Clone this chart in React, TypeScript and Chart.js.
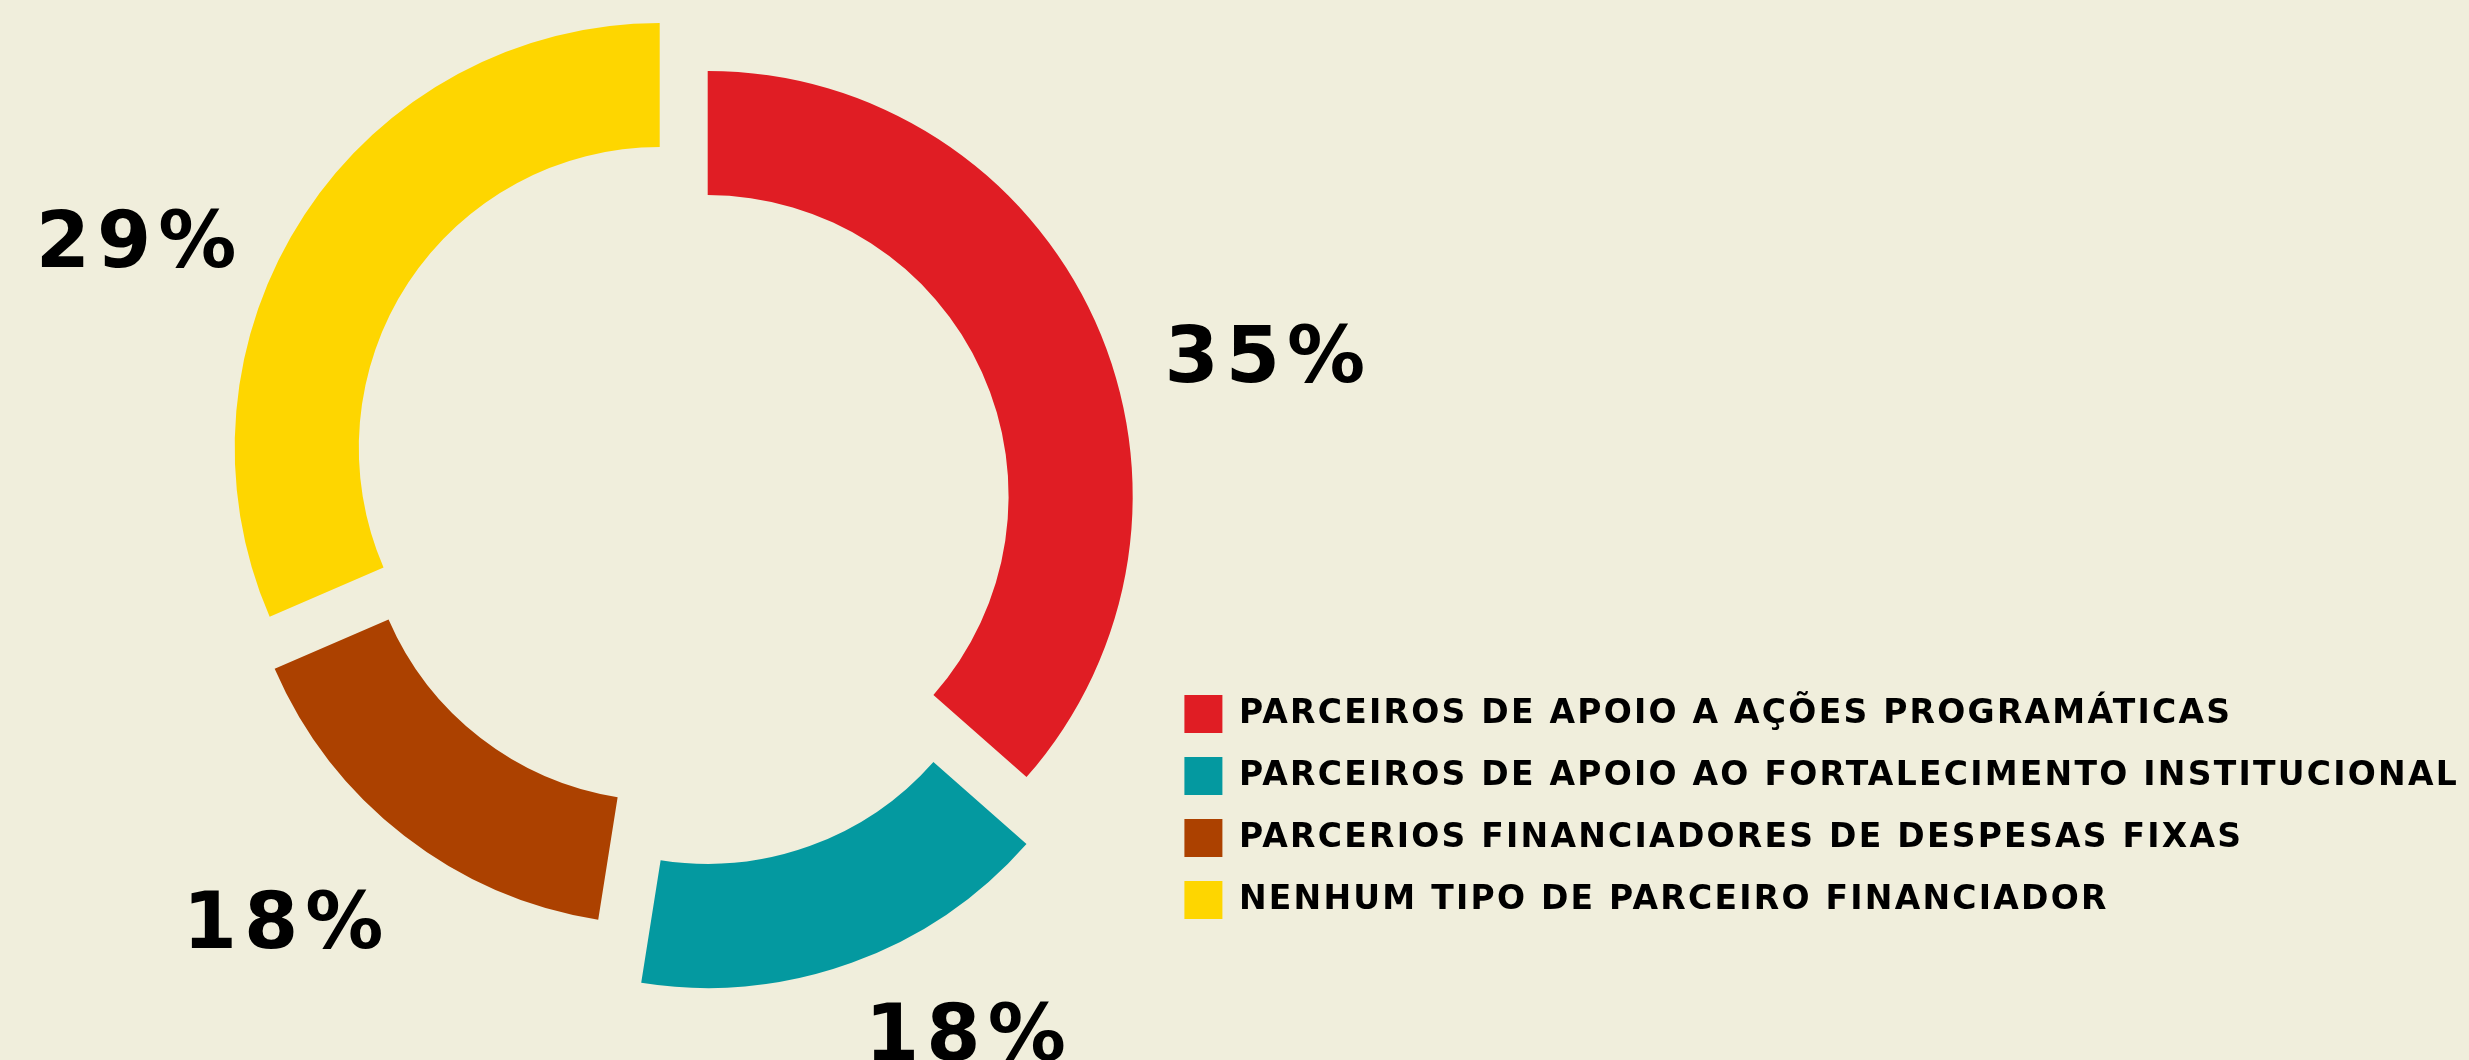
import React, { useEffect, useRef } from 'react';
import { Chart, registerables } from 'chart.js';

Chart.register(...registerables);

// ---- data ----
const categories = [
  'PARCEIROS DE APOIO A AÇÕES PROGRAMÁTICAS',
  'PARCEIROS DE APOIO AO FORTALECIMENTO INSTITUCIONAL',
  'PARCERIOS FINANCIADORES DE DESPESAS FIXAS',
  'NENHUM TIPO DE PARCEIRO FINANCIADOR',
];
// arc shares as drawn in the reference (degrees of each arc / 360)
const sliceShares = [36.5, 16, 16, 31.5];
// printed labels
const percentLabels = ['35%', '18%', '18%', '29%'];

// ---- style ----
const sliceColors = ['#E01D24', '#0499A0', '#AC4100', '#FED600'];
const BG = '#F0EEDC';
const W = 2469;
const H = 1060;
// exploded-piece displacement of each slice (px)
const sliceShift: [number, number][] = [
  [0, 0],
  [0, 67],
  [-43, 4],
  [-48, -48],
];
const labelAngleShiftDeg = [10, -9, 4.5, -11.5];
const labelDistance = [575, 535, 567, 564];
const PCT_FONT_SIZE = 78;
const PCT_TRACKING = 7;
const LEGEND_TRACKING = '2.25px';

const explodePlugin = {
  id: 'explodePieces',
  afterDatasetsUpdate(chart: any) {
    const meta = chart.getDatasetMeta(0);
    meta.data.forEach((el: any, i: number) => {
      el.x += sliceShift[i][0];
      el.y += sliceShift[i][1];
    });
  },
};

const trackingPlugin = {
  id: 'legendTracking',
  beforeLayout(chart: any) {
    chart.ctx.letterSpacing = LEGEND_TRACKING;
  },
  beforeDraw(chart: any) {
    chart.ctx.letterSpacing = LEGEND_TRACKING;
  },
};

const percentPlugin = {
  id: 'percentLabels',
  afterDatasetsDraw(chart: any) {
    const ctx = chart.ctx;
    const meta = chart.getDatasetMeta(0);
    ctx.save();
    ctx.font = `bold ${PCT_FONT_SIZE}px "DejaVu Sans", sans-serif`;
    ctx.letterSpacing = `${PCT_TRACKING}px`;
    ctx.fillStyle = '#000';
    ctx.textAlign = 'center';
    ctx.textBaseline = 'alphabetic';
    const capHalf = (PCT_FONT_SIZE * 0.729) / 2;
    meta.data.forEach((el: any, i: number) => {
      const { x, y, startAngle, endAngle } = el.getProps(['x', 'y', 'startAngle', 'endAngle'], true);
      const mid = (startAngle + endAngle) / 2 + (labelAngleShiftDeg[i] * Math.PI) / 180;
      const lx = x + Math.cos(mid) * labelDistance[i];
      const ly = y + Math.sin(mid) * labelDistance[i];
      ctx.fillText(percentLabels[i], lx + PCT_TRACKING / 2, ly + capHalf);
    });
    ctx.restore();
  },
};

export default function App() {
  const ref = useRef<HTMLCanvasElement>(null);
  useEffect(() => {
    document.body.style.margin = '0';
    document.body.style.background = BG;
    const chart = new Chart(ref.current as HTMLCanvasElement, {
      type: 'doughnut',
      data: {
        labels: categories,
        datasets: [
          {
            data: sliceShares,
            backgroundColor: sliceColors,
            borderWidth: 0,
            hoverOffset: 0,
            offset: 0,
            radius: 425,
            cutout: '70.8%',
          } as any,
        ],
      },
      options: {
        responsive: false,
        devicePixelRatio: 1,
        animation: false,
        events: [],
        layout: { padding: { left: 255, top: 49, bottom: 117, right: 0 } },
        plugins: {
          tooltip: { enabled: false },
          legend: {
            position: 'right',
            align: 'end',
            maxWidth: 2400,
            labels: {
              boxWidth: 38,
              boxHeight: 38,
              padding: 24,
              color: '#000',
              font: { family: '"DejaVu Sans", sans-serif', size: 33, weight: 'bold' },
            },
          } as any,
        },
      } as any,
      plugins: [trackingPlugin, explodePlugin, percentPlugin],
    });
    return () => chart.destroy();
  }, []);
  return (
    <div style={{ width: W, height: H, background: BG }}>
      <canvas ref={ref} width={W} height={H} style={{ display: 'block' }} />
    </div>
  );
}
